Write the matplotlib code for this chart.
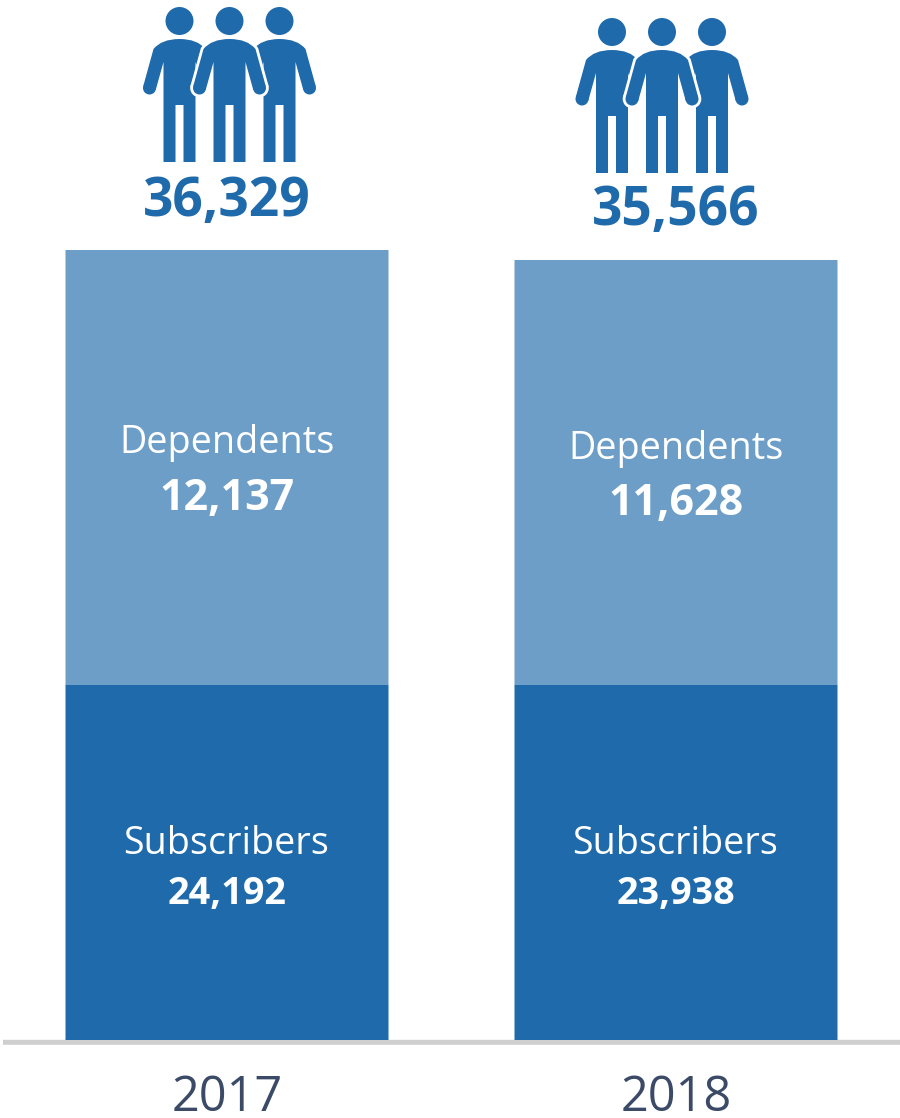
import matplotlib
matplotlib.use("Agg")
import matplotlib.pyplot as plt
from matplotlib.path import Path
from matplotlib.patches import PathPatch, Circle

years = ["2017", "2018"]
totals = ["36,329", "35,566"]
subscribers = ["24,192", "23,938"]
dependents = ["12,137", "11,628"]
# The source chart is not drawn to scale: segment heights are read off the picture
subs_drawn = [355, 355]
deps_drawn = [435, 425]

DARK = "#1F6AAB"
LIGHT = "#6C9EC8"
GREY = "#CFCFCF"
INK = "#3B4A66"
FONT = "Open Sans"

fig = plt.figure(figsize=(9, 11.18), dpi=100)
ax = fig.add_axes([0, 0, 1, 1])
ax.set_xlim(0, 900)
ax.set_ylim(-78, 1040)

centers = [227, 676]
width = 323
for bars in (ax.bar(centers, subs_drawn, width=width, color=DARK, zorder=3),
             ax.bar(centers, deps_drawn, width=width, bottom=subs_drawn, color=LIGHT, zorder=3)):
    for b in bars:
        b.set_snap(False)

for s in ("top", "left", "right"):
    ax.spines[s].set_visible(False)
ax.spines["bottom"].set_position(("data", -2.3))
ax.spines["bottom"].set_color(GREY)
ax.spines["bottom"].set_linewidth(3.6)
ax.spines["bottom"].set_capstyle("butt")
ax.spines["bottom"].set_snap(False)
ax.spines["bottom"].set_bounds(3, 900)
ax.set_yticks([])
ax.set_xticks(centers)
ax.set_xticklabels(years, fontsize=35, color=INK, family=FONT)
ax.tick_params(axis="x", length=0, pad=22.5)


def py(y):
    return 1040 - y


M, L, Q, C = Path.MOVETO, Path.LINETO, Path.CURVE3, Path.CLOSEPOLY
# person silhouette in reference pixels, relative to head centre x and head centre y
BODY = [((0, 18), M), ((18, 18), Q), ((26, 28), Q), ((36.2, 65), L), ((23.8, 69), L), ((16, 41), L),
        ((16, 141), L), ((4, 141), L), ((4, 84), L), ((-4, 84), L), ((-4, 141), L), ((-16, 141), L),
        ((-16, 41), L), ((-23.8, 69), L), ((-36.2, 65), L), ((-26, 28), L), ((-18, 18), Q), ((0, 18), Q),
        ((0, 18), C)]
# white backing of the front figure: also blanks the gaps between its arms and body
HALO = [((0, 18), M), ((18, 18), Q), ((26, 28), Q), ((36.2, 65), L), ((30, 75), L), ((16, 75), L),
        ((16, 141), L), ((-16, 141), L), ((-16, 75), L), ((-30, 75), L), ((-36.2, 65), L),
        ((-26, 28), L), ((-18, 18), Q), ((0, 18), Q), ((0, 18), C)]


def make_path(spec, cx, cy):
    return Path([(cx + p[0], py(cy + p[1])) for p, _ in spec], [c for _, c in spec])


def person(cx, cy, z, front=False):
    if front:
        ax.add_patch(PathPatch(make_path(HALO, cx, cy), fc="white", ec="white", lw=4,
                               joinstyle="round", zorder=z))
    ax.add_patch(PathPatch(make_path(BODY, cx, cy), fc=DARK, ec="none", zorder=z + 0.1))
    ax.add_patch(Circle((cx, py(cy)), 14, fc=DARK, ec="none", zorder=z + 0.1))
    for sx in (-1, 1):
        if front:
            ax.add_patch(Circle((cx + sx * 30, py(cy + 67)), 6.5, fc=DARK, ec="white", lw=4,
                                zorder=z + 0.05))
        ax.add_patch(Circle((cx + sx * 30, py(cy + 67)), 6.5, fc=DARK, ec="none", zorder=z + 0.1))


for cx, cy in [(229.5, 21), (662, 32)]:
    person(cx - 50, cy, 4)
    person(cx + 50, cy, 4)
    person(cx, cy, 5, front=True)

total_base = [216, 225]
dep_label = [453.5, 458.5]
dep_val = [510, 515]
for i, c in enumerate(centers):
    ax.text(c, py(total_base[i]), totals[i], ha="center", va="baseline", fontsize=38.3,
            fontweight="bold", color=DARK, family=FONT, zorder=6)
    ax.text(c, py(dep_label[i]), "Dependents", ha="center", va="baseline", fontsize=27.2,
            color="white", family=FONT, zorder=6)
    ax.text(c, py(dep_val[i]), dependents[i], ha="center", va="baseline", fontsize=31,
            fontweight="bold", color="white", family=FONT, zorder=6)
    ax.text(c - 1, py(854), "Subscribers", ha="center", va="baseline", fontsize=27.1,
            color="white", family=FONT, zorder=6)
    ax.text(c, py(904), subscribers[i], ha="center", va="baseline", fontsize=27.2,
            fontweight="bold", color="white", family=FONT, zorder=6)

fig.savefig("out.png", dpi=100)
